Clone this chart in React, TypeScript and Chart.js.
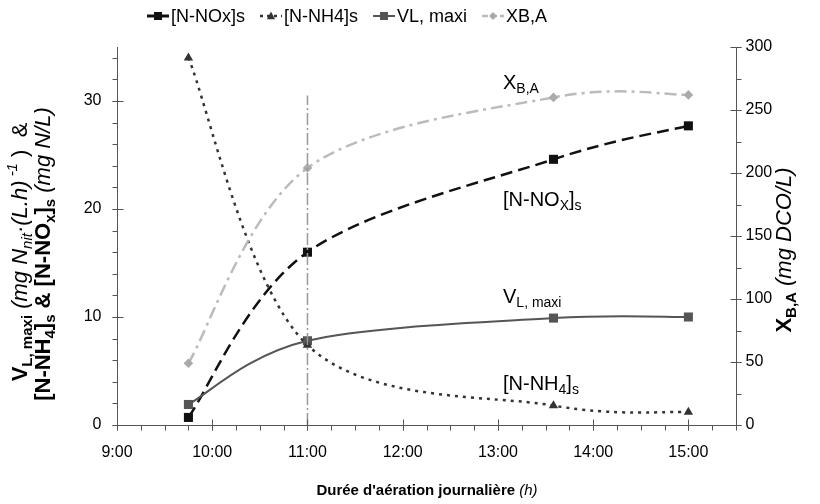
import React, { useEffect, useRef } from "react";
import { Chart, registerables } from "chart.js";
Chart.register(...registerables);

// ---- data ----
const times = [9.75, 11, 13 + 35 / 60, 15];
const noxValues = [0.7, 16.0, 24.6, 27.7];
const nh4Values = [34.0, 7.4, 1.8, 1.2];
const vlValues = [1.9, 7.8, 9.9, 10.0];
const xbaValues = [49, 204, 260, 262];
const xTicks = [9, 10, 11, 12, 13, 14, 15];
const leftTicks = [0, 10, 20, 30];
const rightTicks = [0, 50, 100, 150, 200, 250, 300];
const markerTime = 11;
const markerTop = 30.5;
const legendLabels = ["[N-NOx]s", "[N-NH4]s", "VL, maxi", "XB,A"];

const FAM = "'Liberation Sans', Arial, Helvetica, sans-serif";

type Seg = { t: string; b?: boolean; i?: boolean; sub?: boolean; sup?: boolean };

function fontFor(s: Seg, size: number) {
  const sz = s.sub || s.sup ? Math.round(size * 0.68) : size;
  return `${s.i ? "italic " : ""}${s.b ? "bold " : ""}${sz}px ${FAM}`;
}

function drawRich(ctx: CanvasRenderingContext2D, segs: Seg[], x: number, y: number, size: number, rot: number, align: "center" | "left" = "center") {
  ctx.save();
  ctx.translate(x, y);
  ctx.rotate(rot);
  let w = 0;
  for (const s of segs) {
    ctx.font = fontFor(s, size);
    w += ctx.measureText(s.t).width;
  }
  let cx = align === "center" ? -w / 2 : 0;
  ctx.textBaseline = "middle";
  ctx.textAlign = "left";
  ctx.fillStyle = "#000";
  for (const s of segs) {
    ctx.font = fontFor(s, size);
    const dy = s.sub ? size * 0.3 : s.sup ? -size * 0.35 : 0;
    ctx.fillText(s.t, cx, dy);
    cx += ctx.measureText(s.t).width;
  }
  ctx.restore();
}

function drawMarker(ctx: CanvasRenderingContext2D, style: string, x: number, y: number, r: number, color: string) {
  ctx.save();
  ctx.fillStyle = color;
  ctx.beginPath();
  if (style === "rect") {
    ctx.rect(x - r, y - r, 2 * r, 2 * r);
  } else if (style === "triangle") {
    ctx.moveTo(x, y - r * 1.1);
    ctx.lineTo(x + r, y + r * 0.8);
    ctx.lineTo(x - r, y + r * 0.8);
    ctx.closePath();
  } else if (style === "rectRot") {
    ctx.moveTo(x, y - r);
    ctx.lineTo(x + r, y);
    ctx.lineTo(x, y + r);
    ctx.lineTo(x - r, y);
    ctx.closePath();
  }
  ctx.fill();
  ctx.restore();
}

const seriesStyles = [
  { color: "#111", dash: [12, 6], width: 2.5, marker: "rect", mcolor: "#111", mr: 6.4, lmr: 4 },
  { color: "#333", dash: [3, 5], width: 2.5, marker: "triangle", mcolor: "#333", mr: 5.4, lmr: 4 },
  { color: "#555", dash: [] as number[], width: 2, marker: "rect", mcolor: "#555", mr: 6.4, lmr: 4 },
  { color: "#bbb", dash: [12, 5, 3, 5], width: 2.5, marker: "rectRot", mcolor: "#aaa", mr: 4.8, lmr: 4 },
];

// Excel-like smoothing (Catmull-Rom control points)
const smoothPlugin = {
  id: "excelSmooth",
  beforeDatasetDraw(chart: any, args: any) {
    const meta = args.meta;
    const line = meta.dataset;
    if (!line || !line.options || !line.options.tension) return;
    line.updateControlPoints(chart.chartArea, meta.indexAxis);
    const p = meta.data;
    const n = p.length;
    for (let i = 0; i < n; i++) {
      const prev = p[Math.max(0, i - 1)];
      const next = p[Math.min(n - 1, i + 1)];
      const dx = (next.x - prev.x) / 6;
      const dy = (next.y - prev.y) / 6;
      p[i].cp1x = p[i].x - dx;
      p[i].cp1y = p[i].y - dy;
      p[i].cp2x = p[i].x + dx;
      p[i].cp2y = p[i].y + dy;
    }
  },
};

const decorPlugin = {
  id: "decor",
  afterDraw(chart: any) {
    const ctx: CanvasRenderingContext2D = chart.ctx;
    const { left, right, top, bottom } = chart.chartArea;
    const x = chart.scales.x;
    const y = chart.scales.y;
    const y2 = chart.scales.y2;
    ctx.save();
    ctx.strokeStyle = "#555";
    ctx.lineWidth = 1;
    const L = Math.round(left) + 0.5;
    const R = Math.round(right) + 0.5;
    const B = Math.round(bottom) + 0.5;
    ctx.beginPath();
    ctx.moveTo(L, top);
    ctx.lineTo(L, B);
    ctx.moveTo(R, top);
    ctx.lineTo(R, B);
    ctx.moveTo(L, B);
    ctx.lineTo(R, B);
    for (let v = 0; v <= 35; v += 2) {
      const py = Math.round(y.getPixelForValue(v)) + 0.5;
      ctx.moveTo(L - 5, py);
      ctx.lineTo(L, py);
    }
    for (const v of leftTicks) {
      const py = Math.round(y.getPixelForValue(v)) + 0.5;
      ctx.moveTo(L - 5, py);
      ctx.lineTo(L + 6, py);
    }
    for (let v = 0; v <= 300; v += 25) {
      const py = Math.round(y2.getPixelForValue(v)) + 0.5;
      ctx.moveTo(R, py);
      ctx.lineTo(R + 5, py);
    }
    for (const v of rightTicks) {
      const py = Math.round(y2.getPixelForValue(v)) + 0.5;
      ctx.moveTo(R - 6, py);
      ctx.lineTo(R + 5, py);
    }
    for (let v = 9; v <= 15.5; v += 0.25) {
      const px = Math.round(x.getPixelForValue(v)) + 0.5;
      ctx.moveTo(px, B);
      ctx.lineTo(px, B + 5);
    }
    for (const v of xTicks) {
      const px = Math.round(x.getPixelForValue(v)) + 0.5;
      ctx.moveTo(px, B - 6);
      ctx.lineTo(px, B + 5);
    }
    ctx.stroke();

    ctx.fillStyle = "#000";
    ctx.font = `16px ${FAM}`;
    ctx.textBaseline = "middle";
    ctx.textAlign = "right";
    for (const v of leftTicks) ctx.fillText(String(v), L - 16, y.getPixelForValue(v));
    ctx.textAlign = "left";
    for (const v of rightTicks) ctx.fillText(String(v), R + 9, y2.getPixelForValue(v));
    ctx.textAlign = "center";
    for (const v of xTicks) ctx.fillText(`${v}:00`, x.getPixelForValue(v), B + 27);
    ctx.restore();

    // axis titles
    drawRich(ctx, [{ t: "Durée d'aération journalière", b: true }, { t: " (h)", i: true }], (L + R) / 2, 491, 15, 0);
    drawRich(ctx, [{ t: "X", b: true }, { t: "B,A", b: true, sub: true }, { t: " (mg DCO/L)", i: true }], 785, 250, 22, -Math.PI / 2);
    drawRich(ctx, [
      { t: "V", b: true }, { t: "L, maxi", b: true, sub: true }, { t: " (mg N", i: true }, { t: "nit", i: true, sub: true },
      { t: "·(L.h)", i: true }, { t: " -1", i: true, sup: true }, { t: " )  &" },
    ], 21, 252, 22, -Math.PI / 2);
    drawRich(ctx, [
      { t: "[N-NH", b: true }, { t: "4", b: true, sub: true }, { t: "]", b: true }, { t: "s", b: true, sub: true },
      { t: " & [N-NO", b: true }, { t: "x", b: true, sub: true }, { t: "]", b: true }, { t: "s", b: true, sub: true }, { t: " (mg N/L)", i: true },
    ], 44, 254, 22, -Math.PI / 2);

    // annotations
    drawRich(ctx, [{ t: "X" }, { t: "B,A", sub: true }], 503, 83, 20, 0, "left");
    drawRich(ctx, [{ t: "[N-NO" }, { t: "X", sub: true }, { t: "]" }, { t: "s", sub: true }], 503, 200, 20, 0, "left");
    drawRich(ctx, [{ t: "V" }, { t: "L, maxi", sub: true }], 503, 297, 20, 0, "left");
    drawRich(ctx, [{ t: "[N-NH" }, { t: "4", sub: true }, { t: "]" }, { t: "s", sub: true }], 503, 384, 20, 0, "left");

    // legend
    ctx.save();
    ctx.font = `18px ${FAM}`;
    const lineLen = 22;
    const gap = 15;
    let cx = 147;
    const ly = 16;
    legendLabels.forEach((lab, i) => {
      const st = seriesStyles[i];
      ctx.strokeStyle = st.color;
      ctx.lineWidth = i === 0 ? 3 : st.width;
      ctx.setLineDash(i === 1 ? [3, 4] : i === 3 ? [6, 3] : []);
      ctx.beginPath();
      ctx.moveTo(cx, ly);
      ctx.lineTo(cx + lineLen, ly);
      ctx.stroke();
      ctx.setLineDash([]);
      drawMarker(ctx, st.marker, cx + lineLen / 2, ly, st.lmr, st.mcolor);
      ctx.fillStyle = "#000";
      ctx.textAlign = "left";
      ctx.textBaseline = "middle";
      ctx.fillText(lab, cx + lineLen + 2, ly + 1);
      cx += lineLen + 2 + ctx.measureText(lab).width + gap;
    });
    ctx.restore();
  },
};

function pts(vals: number[]) {
  return times.map((t, i) => ({ x: t, y: vals[i] }));
}

export default function App() {
  const ref = useRef<HTMLCanvasElement | null>(null);
  useEffect(() => {
    if (!ref.current) return;
    const mk = (i: number, vals: number[], axis: string, label: string) => {
      const st = seriesStyles[i];
      return {
        label,
        data: pts(vals),
        yAxisID: axis,
        borderColor: st.color,
        backgroundColor: st.mcolor,
        borderWidth: st.width,
        borderDash: st.dash,
        tension: 0.4,
        pointStyle: st.marker,
        pointRadius: st.mr,
        pointBorderWidth: 0,
        pointBackgroundColor: st.mcolor,
        pointBorderColor: st.mcolor,
        fill: false,
      };
    };
    const chart = new Chart(ref.current, {
      type: "line",
      data: {
        datasets: [
          {
            label: "marker",
            data: [{ x: markerTime, y: 0 }, { x: markerTime, y: markerTop }],
            yAxisID: "y",
            borderColor: "#999",
            borderWidth: 1.5,
            borderDash: [12, 3, 2, 3],
            pointRadius: 0,
            tension: 0,
          } as any,
          mk(3, xbaValues, "y2", legendLabels[3]),
          mk(1, nh4Values, "y", legendLabels[1]),
          mk(2, vlValues, "y", legendLabels[2]),
          mk(0, noxValues, "y", legendLabels[0]),
        ],
      },
      options: {
        animation: false,
        responsive: true,
        maintainAspectRatio: false,
        layout: { padding: { left: 117, right: 84, top: 47, bottom: 79 } },
        plugins: { legend: { display: false }, tooltip: { enabled: false } },
        scales: {
          x: { type: "linear", min: 9, max: 15.5, display: false },
          y: { type: "linear", min: 0, max: 35, display: false },
          y2: { type: "linear", min: 0, max: 300, display: false, position: "right" },
        },
      },
      plugins: [smoothPlugin, decorPlugin],
    } as any);
    return () => chart.destroy();
  }, []);
  return (
    <div style={{ position: "fixed", left: 0, top: 0, width: 820, height: 504, background: "#fff" }}>
      <canvas ref={ref} />
    </div>
  );
}
